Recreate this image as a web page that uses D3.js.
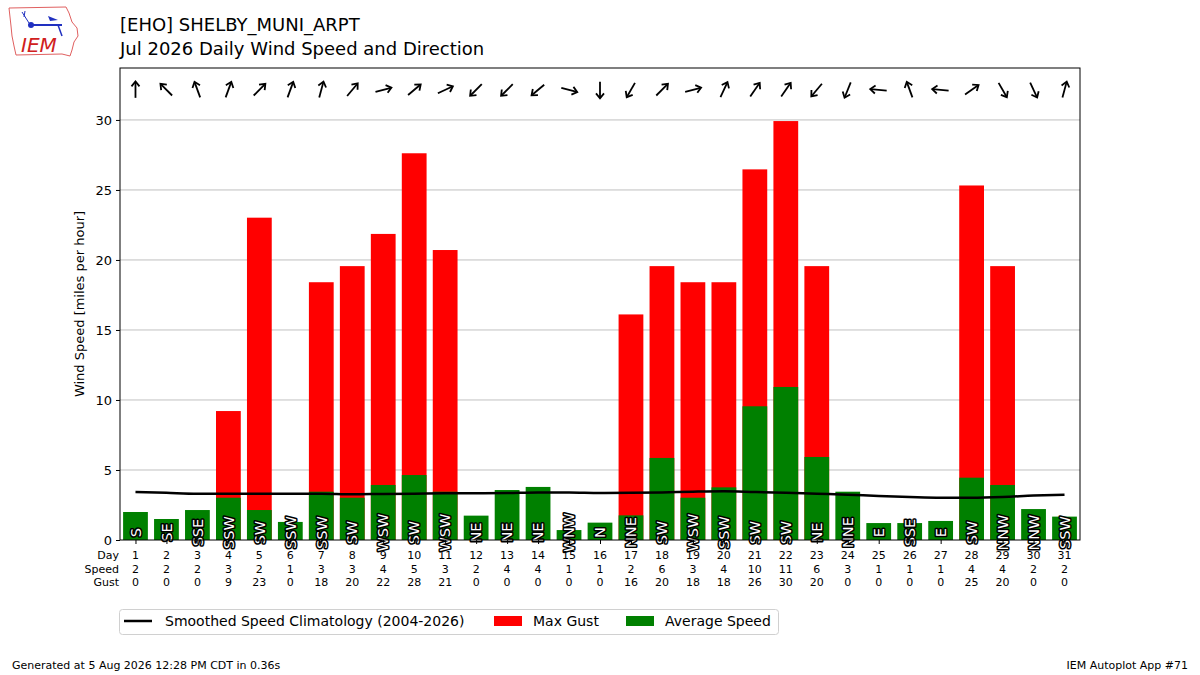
<!DOCTYPE html>
<html>
<head>
<meta charset="utf-8">
<script src="https://cdn.jsdelivr.net/npm/d3@7"></script>
<style>
  body { margin: 0; background: #fff; }
  text { font-family: "DejaVu Sans", sans-serif; }
</style>
</head>
<body>
<script>
const width = 1200, height = 675;

// daily data, Jul 2026
const days = [1,2,3,4,5,6,7,8,9,10,11,12,13,14,15,16,17,18,19,20,21,22,23,24,25,26,27,28,29,30,31];
const avgSpeed = [2.0,1.5,2.14,3.02,2.14,1.29,3.45,3.02,3.93,4.64,3.45,1.74,3.57,3.79,0.71,1.24,1.76,5.86,3.02,3.76,9.55,10.93,5.93,3.45,1.21,1.21,1.36,4.45,3.93,2.21,1.67];
const maxGust = [0,0,0,9.21,23.02,0,18.41,19.56,21.86,27.62,20.71,0,0,0,0,0,16.11,19.56,18.41,18.41,26.47,29.92,19.56,0,0,0,0,25.32,19.56,0,0];
const climo = [3.43,3.37,3.31,3.31,3.3,3.3,3.31,3.26,3.29,3.31,3.33,3.33,3.35,3.4,3.4,3.36,3.38,3.4,3.45,3.48,3.43,3.38,3.31,3.24,3.14,3.07,3.02,3.02,3.07,3.17,3.24];
// mean direction the wind blows from (degrees) and its compass label
const dirDeg = [180,135,160,200,225,200,195,220,255,230,245,45,45,50,285,0,30,225,255,205,215,215,40,22,95,160,95,235,330,335,195];
const dirLabel = ["S","SE","SSE","SSW","SW","SSW","SSW","SW","WSW","SW","WSW","NE","NE","NE","WNW","N","NNE","SW","WSW","SSW","SW","SW","NE","NNE","E","SSE","E","SW","NNW","NNW","SSW"];
const yTicks = [0,5,10,15,20,25,30];

const margin = {left: 120, right: 120, top: 68, bottom: 135};

const svg = d3.select("body").append("svg")
  .attr("width", width)
  .attr("height", height);

const x = d3.scaleLinear()
  .domain([0.5, 31.5])
  .range([margin.left, width - margin.right]);

const y = d3.scaleLinear()
  .domain([0, 33.71])
  .range([height - margin.bottom, margin.top]);

const bw = x(1.4) - x(0.6);

// grid
svg.append("g").selectAll("line")
  .data(yTicks.filter(d => d > 0))
  .enter().append("line")
    .attr("x1", x.range()[0]).attr("x2", x.range()[1])
    .attr("y1", d => y(d)).attr("y2", d => y(d))
    .attr("stroke", "#b0b0b0").attr("stroke-width", 0.8);

// gust bars, then average on top
svg.append("g").selectAll("rect")
  .data(days.filter((d, i) => maxGust[i] > 0))
  .enter().append("rect")
    .attr("x", d => x(d) - bw / 2)
    .attr("width", bw)
    .attr("y", d => y(maxGust[d - 1]))
    .attr("height", d => y(0) - y(maxGust[d - 1]))
    .attr("fill", "red");

svg.append("g").selectAll("rect")
  .data(days)
  .enter().append("rect")
    .attr("x", d => x(d) - bw / 2)
    .attr("width", bw)
    .attr("y", (d, i) => y(avgSpeed[i]))
    .attr("height", (d, i) => y(0) - y(avgSpeed[i]))
    .attr("fill", "green");

// climatology line
const line = d3.line()
  .x((d, i) => x(days[i]))
  .y(d => y(d))
  .curve(d3.curveMonotoneX);

svg.append("path")
  .attr("d", line(climo))
  .attr("fill", "none")
  .attr("stroke", "black")
  .attr("stroke-width", 2.5);

// direction labels inside bars
svg.append("g").selectAll("text")
  .data(days)
  .enter().append("text")
    .attr("transform", d => `translate(${x(d)},${y(0.53)}) rotate(-90)`)
    .attr("text-anchor", "middle")
    .attr("dy", "0.36em")
    .attr("font-size", 14.5)
    .attr("fill", "white")
    .attr("stroke", "black")
    .attr("stroke-width", 3)
    .attr("stroke-linejoin", "round")
    .attr("paint-order", "stroke")
    .text((d, i) => dirLabel[i]);

// direction arrows along the top
const arrows = svg.append("g").selectAll("g")
  .data(days)
  .enter().append("g")
    .attr("transform", (d, i) => `translate(${x(d)},${y(32.15)}) rotate(${dirDeg[i] + 180})`);

arrows.append("line")
  .attr("x1", 0).attr("y1", 8)
  .attr("x2", 0).attr("y2", -8)
  .attr("stroke", "black").attr("stroke-width", 1.8);

arrows.append("path")
  .attr("d", "M-4,-3.5L0,-8.5L4,-3.5")
  .attr("fill", "none")
  .attr("stroke", "black").attr("stroke-width", 1.8)
  .attr("stroke-linejoin", "miter");

// axes frame
svg.append("rect")
  .attr("x", x.range()[0]).attr("y", margin.top)
  .attr("width", x.range()[1] - x.range()[0])
  .attr("height", y(0) - margin.top)
  .attr("fill", "none").attr("stroke", "black").attr("stroke-width", 1);

const yAxis = svg.append("g")
  .attr("transform", `translate(${margin.left},0)`)
  .call(d3.axisLeft(y).tickValues(yTicks).tickSize(4).tickPadding(4));
yAxis.select(".domain").remove();
yAxis.selectAll("text").attr("font-size", 13).attr("font-family", "DejaVu Sans");

const xAxis = svg.append("g")
  .attr("transform", `translate(0,${y(0)})`)
  .call(d3.axisBottom(x).tickValues(days).tickSize(4).tickFormat(""));
xAxis.select(".domain").remove();

// day / speed / gust table under the axis
const rows = [
  {name: "Day", vals: days.map(String)},
  {name: "Speed", vals: avgSpeed.map(v => String(Math.round(v)))},
  {name: "Gust", vals: maxGust.map(v => String(Math.round(v)))}
];
rows.forEach((r, k) => {
  const yy = y(0) + 19 + k * 13.5;
  svg.append("text")
    .attr("x", margin.left - 1).attr("y", yy)
    .attr("text-anchor", "end").attr("font-size", 11)
    .text(r.name);
  svg.append("g").selectAll("text")
    .data(r.vals)
    .enter().append("text")
      .attr("x", (d, i) => x(days[i]))
      .attr("y", yy)
      .attr("text-anchor", "middle").attr("font-size", 11)
      .text(d => d);
});

// y label
svg.append("text")
  .attr("transform", `translate(84,${(margin.top + y(0)) / 2}) rotate(-90)`)
  .attr("text-anchor", "middle")
  .attr("font-size", 13)
  .text("Wind Speed [miles per hour]");

// titles
svg.append("text").attr("x", 120).attr("y", 31).attr("font-size", 18)
  .text("[EHO] SHELBY_MUNI_ARPT");
svg.append("text").attr("x", 120).attr("y", 55).attr("font-size", 18)
  .text("Jul 2026 Daily Wind Speed and Direction");

// legend
const lg = svg.append("g");
lg.append("rect")
  .attr("x", 119.5).attr("y", 609.5).attr("width", 659).attr("height", 25)
  .attr("rx", 3).attr("fill", "white").attr("stroke", "#d0d0d0");
lg.append("line").attr("x1", 124).attr("x2", 152).attr("y1", 621).attr("y2", 621)
  .attr("stroke", "black").attr("stroke-width", 2.5);
lg.append("text").attr("x", 165).attr("y", 626).attr("font-size", 14)
  .text("Smoothed Speed Climatology (2004-2026)");
lg.append("rect").attr("x", 494).attr("y", 616).attr("width", 28).attr("height", 10).attr("fill", "red");
lg.append("text").attr("x", 533).attr("y", 626).attr("font-size", 14).text("Max Gust");
lg.append("rect").attr("x", 626).attr("y", 616).attr("width", 28).attr("height", 10).attr("fill", "green");
lg.append("text").attr("x", 665).attr("y", 626).attr("font-size", 14).text("Average Speed");

// footer
svg.append("text").attr("x", 12).attr("y", 669).attr("font-size", 11)
  .text("Generated at 5 Aug 2026 12:28 PM CDT in 0.36s");
svg.append("text").attr("x", 1188).attr("y", 669).attr("font-size", 11)
  .attr("text-anchor", "end").text("IEM Autoplot App #71");

// rough IEM logo
const logo = svg.append("g");
logo.append("path")
  .attr("d", "M9,8L66,7L69,13L72,22L77,28L78,36L74,42L72,50L70,56L62,54L16,55L14,46L12,36L11,26Z")
  .attr("fill", "none").attr("stroke", "#e06060").attr("stroke-width", 1);
logo.append("line").attr("x1", 31).attr("x2", 62).attr("y1", 25).attr("y2", 25)
  .attr("stroke", "#2030c0").attr("stroke-width", 2);
logo.append("circle").attr("cx", 31).attr("cy", 25).attr("r", 3).attr("fill", "#2030c0");
logo.append("path").attr("d", "M48,16L58,20L50,21Z").attr("fill", "#2030c0");
logo.append("line").attr("x1", 58).attr("x2", 62).attr("y1", 25).attr("y2", 36)
  .attr("stroke", "#2030c0").attr("stroke-width", 1.5);
logo.append("path").attr("d", "M22,12L29,23M25,11L24,17").attr("stroke", "#2030c0").attr("fill", "none");
logo.append("text").attr("x", 21).attr("y", 52)
  .attr("font-family", "Liberation Serif").attr("font-style", "italic")
  .attr("font-size", 20).attr("fill", "#d02020").text("IEM");
</script>
</body>
</html>
